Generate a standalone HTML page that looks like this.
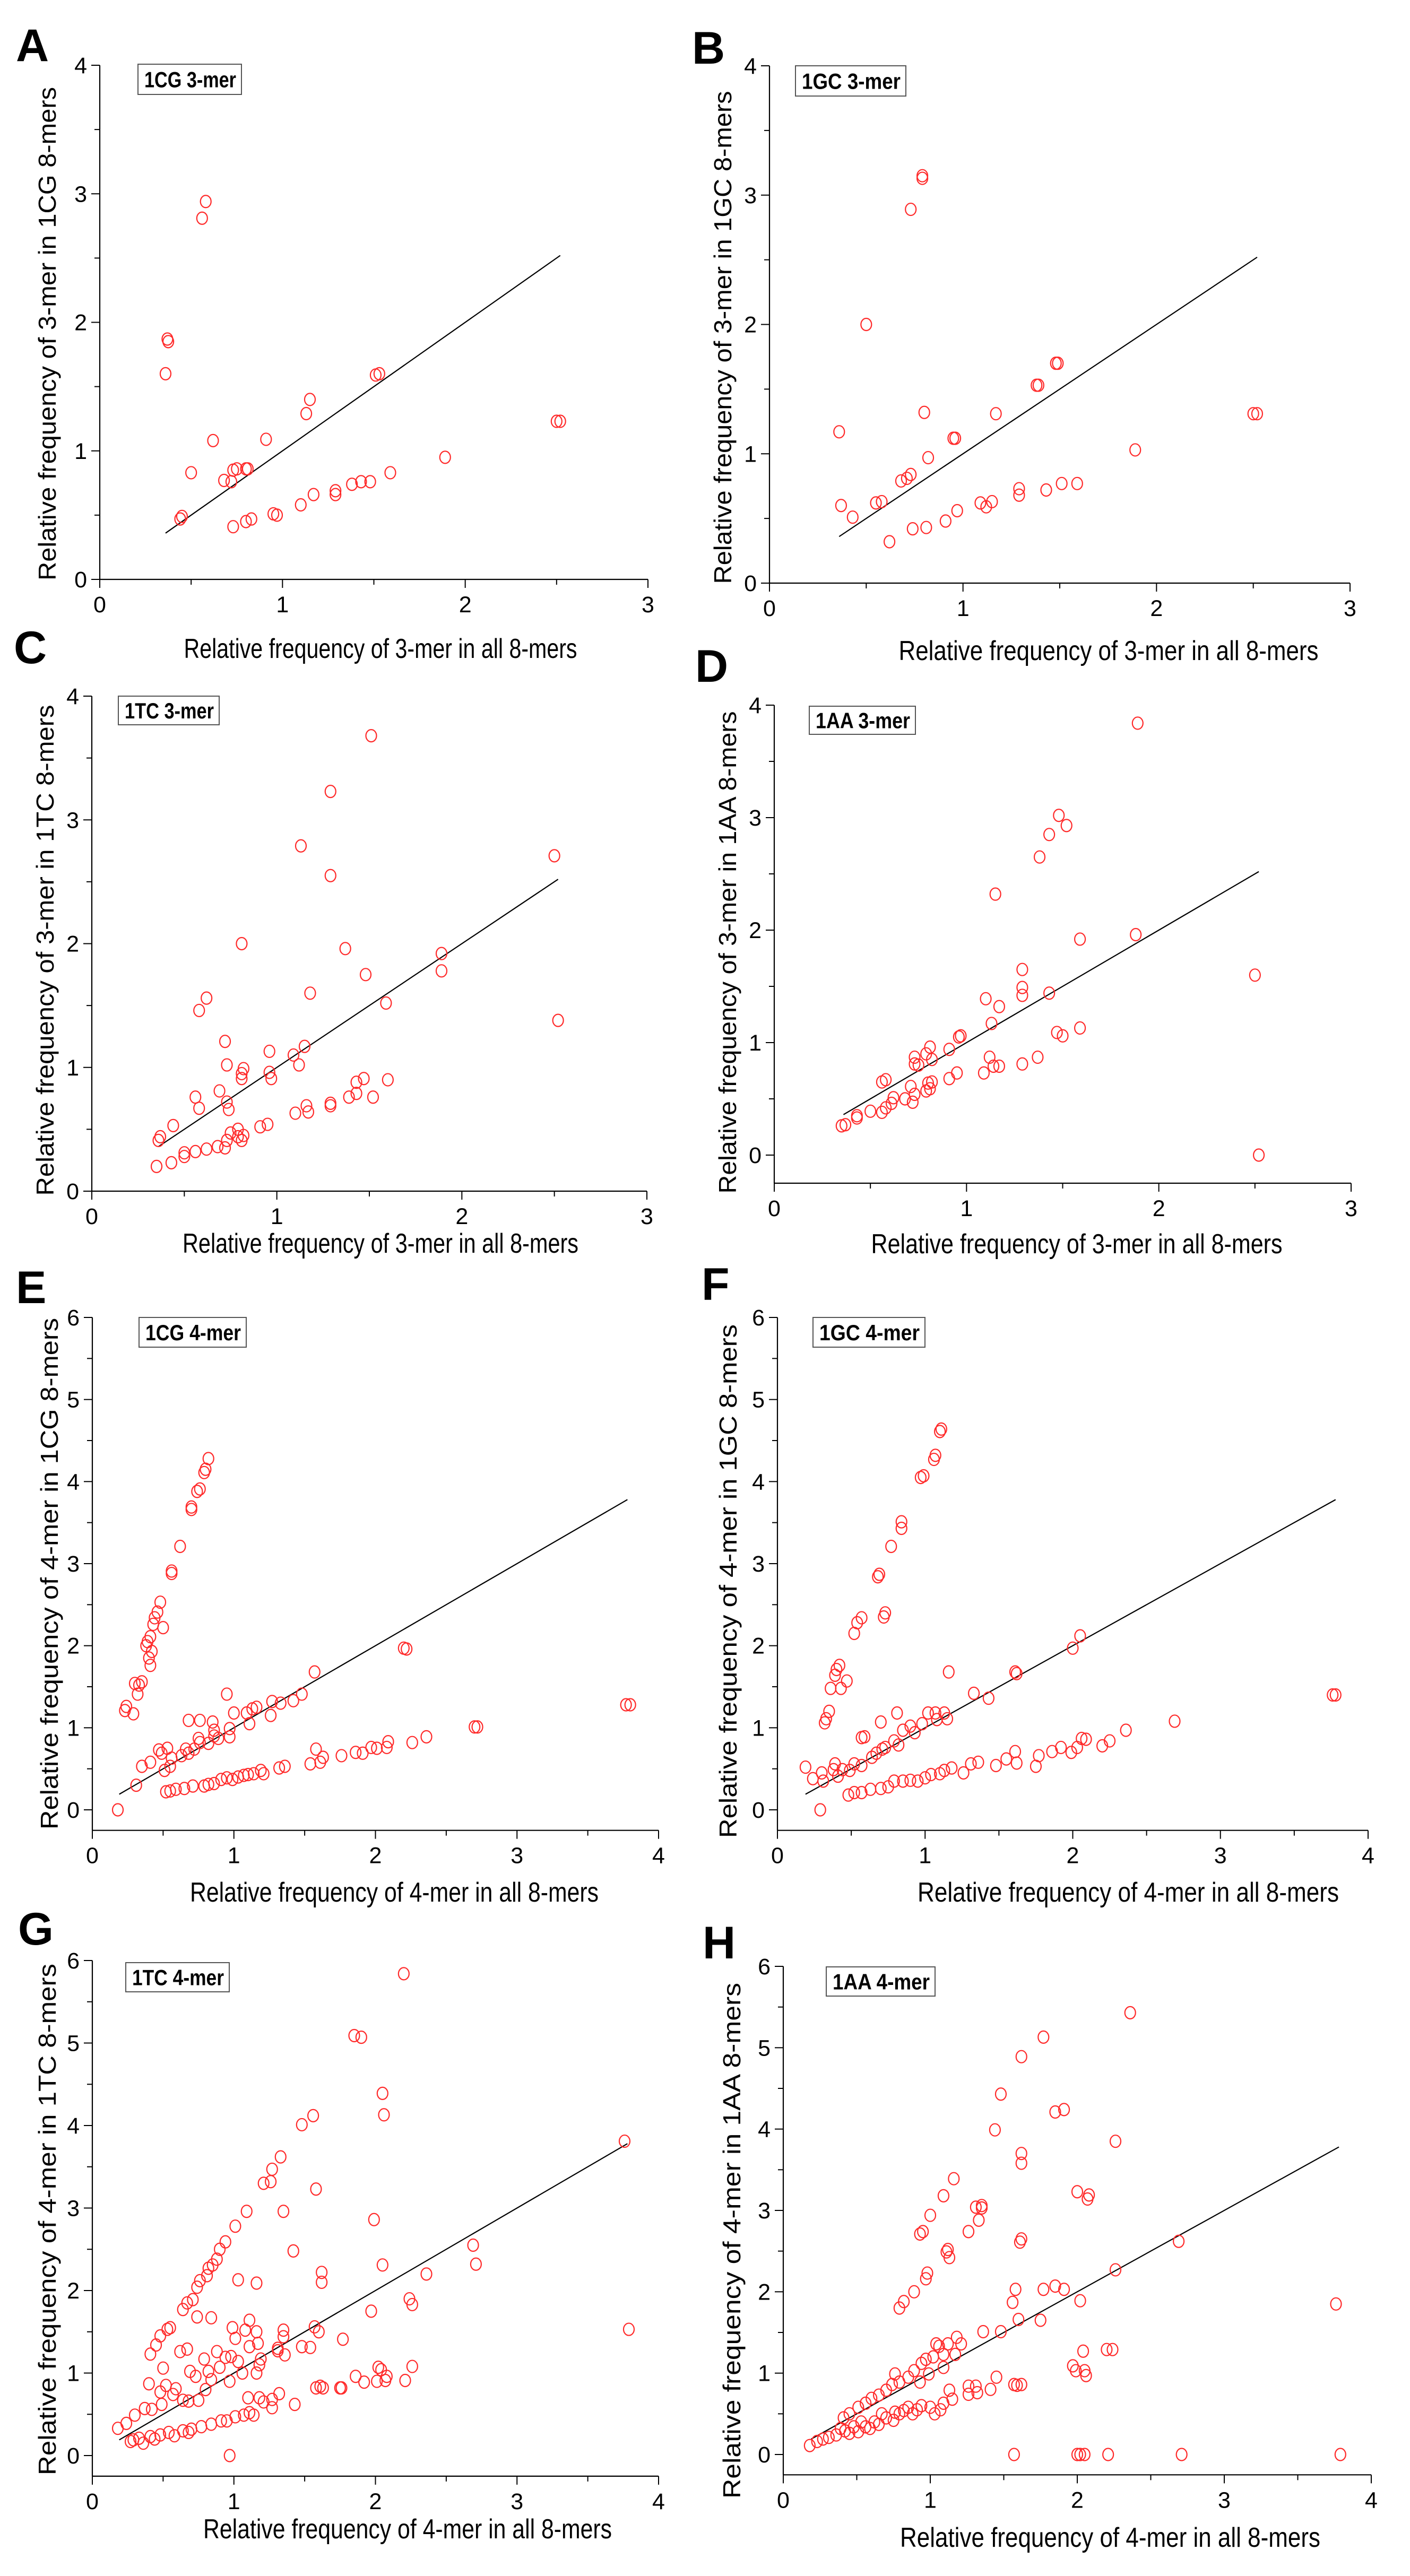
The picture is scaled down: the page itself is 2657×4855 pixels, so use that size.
<!DOCTYPE html>
<html><head><meta charset="utf-8"><title>k-mer relative frequency scatter plots</title>
<style>
html,body{margin:0;padding:0;background:#fff;}
svg{display:block;}
text{font-family:"Liberation Sans",sans-serif;}
</style></head>
<body>
<svg id="fig" xmlns="http://www.w3.org/2000/svg" width="2657" height="4855" viewBox="0 0 2657 4855"></svg>
<script>
// ---- data (x = relative frequency in all 8-mers, y = relative frequency in subset) ----
const A_PTS = [[0.58,2.94],[0.56,2.81],[0.37,1.87],[0.375,1.85],[0.36,1.60],[0.62,1.08],[0.91,1.09],[0.50,0.83],[0.68,0.77],[0.72,0.76],[0.73,0.85],[0.75,0.86],[0.80,0.86],[0.81,0.86],[0.44,0.47],[0.45,0.49],[0.73,0.41],[0.80,0.45],[0.83,0.47],[0.95,0.51],[0.97,0.50],[1.10,0.58],[1.17,0.66],[1.13,1.29],[1.15,1.40],[1.29,0.69],[1.29,0.66],[1.38,0.74],[1.43,0.76],[1.48,0.76],[1.59,0.83],[1.51,1.59],[1.53,1.60],[1.89,0.95],[2.50,1.23],[2.52,1.23]];
const B_PTS = [[0.79,3.15],[0.79,3.13],[0.73,2.89],[0.50,2.00],[1.48,1.70],[1.49,1.70],[1.38,1.53],[1.39,1.53],[0.80,1.32],[1.17,1.31],[0.36,1.17],[0.95,1.12],[0.96,1.12],[0.82,0.97],[1.89,1.03],[2.50,1.31],[2.52,1.31],[0.68,0.79],[0.71,0.81],[0.73,0.84],[0.37,0.60],[0.43,0.51],[0.55,0.62],[0.58,0.63],[0.62,0.32],[0.74,0.42],[0.81,0.43],[0.91,0.48],[0.97,0.56],[1.09,0.62],[1.12,0.59],[1.15,0.63],[1.29,0.68],[1.29,0.73],[1.43,0.72],[1.51,0.77],[1.59,0.77]];
const C_PTS = [[1.51,3.68],[1.29,3.23],[1.13,2.79],[1.29,2.55],[2.50,2.71],[0.81,2.00],[1.37,1.96],[1.89,1.92],[1.89,1.78],[1.48,1.75],[1.18,1.60],[1.59,1.52],[2.52,1.38],[0.62,1.56],[0.58,1.46],[0.72,1.21],[0.96,1.13],[1.15,1.17],[1.09,1.10],[1.12,1.02],[0.73,1.02],[0.82,0.99],[0.81,0.95],[0.81,0.91],[0.96,0.96],[0.97,0.91],[0.69,0.81],[0.56,0.76],[0.58,0.67],[0.73,0.72],[0.74,0.66],[0.44,0.53],[0.36,0.41],[0.37,0.44],[0.35,0.20],[0.43,0.23],[0.50,0.28],[0.50,0.31],[0.56,0.32],[0.62,0.34],[0.68,0.36],[0.72,0.35],[0.73,0.41],[0.75,0.47],[0.79,0.50],[0.79,0.44],[0.81,0.41],[0.82,0.45],[0.91,0.52],[0.95,0.54],[1.10,0.63],[1.16,0.69],[1.17,0.64],[1.29,0.71],[1.29,0.69],[1.39,0.76],[1.43,0.79],[1.43,0.88],[1.47,0.91],[1.52,0.76],[1.60,0.90]];
const D_PTS = [[1.89,3.84],[1.48,3.02],[1.52,2.93],[1.43,2.85],[1.38,2.65],[1.15,2.32],[1.59,1.92],[1.88,1.96],[2.50,1.60],[2.52,0.0],[1.29,1.65],[1.29,1.49],[1.29,1.42],[1.43,1.44],[1.10,1.39],[1.17,1.32],[1.13,1.17],[1.47,1.09],[1.50,1.06],[1.59,1.13],[0.96,1.05],[0.97,1.06],[0.91,0.94],[0.81,0.96],[0.79,0.90],[0.82,0.85],[0.73,0.87],[0.73,0.81],[0.75,0.80],[1.12,0.87],[1.37,0.87],[1.29,0.81],[1.14,0.79],[1.17,0.79],[1.09,0.73],[0.95,0.73],[0.91,0.68],[0.82,0.65],[0.80,0.64],[0.56,0.65],[0.58,0.67],[0.71,0.61],[0.79,0.57],[0.81,0.59],[0.73,0.54],[0.72,0.47],[0.68,0.50],[0.62,0.51],[0.61,0.46],[0.58,0.42],[0.56,0.38],[0.50,0.39],[0.43,0.33],[0.43,0.35],[0.37,0.27],[0.35,0.26]];
const E_PTS = [[0.82,4.28],[0.80,4.15],[0.79,4.11],[0.76,3.91],[0.74,3.88],[0.70,3.69],[0.70,3.66],[0.62,3.21],[0.56,2.91],[0.56,2.88],[0.48,2.53],[0.46,2.41],[0.44,2.34],[0.43,2.26],[0.50,2.22],[0.41,2.11],[0.39,2.05],[0.38,2.00],[0.42,1.93],[0.40,1.85],[0.41,1.76],[0.35,1.56],[0.33,1.52],[0.30,1.54],[0.32,1.41],[0.24,1.26],[0.23,1.21],[0.29,1.17],[0.18,0.0],[0.31,0.30],[0.35,0.53],[0.41,0.58],[0.47,0.73],[0.49,0.69],[0.53,0.75],[0.51,0.48],[0.55,0.53],[0.56,0.63],[0.63,0.66],[0.66,0.74],[0.68,0.69],[0.72,0.74],[0.68,1.09],[0.76,1.09],[0.75,0.87],[0.76,0.82],[0.82,0.81],[0.85,1.07],[0.86,0.97],[0.86,0.90],[0.89,0.87],[0.97,0.99],[0.97,0.89],[0.95,1.41],[1.00,1.18],[1.11,1.05],[1.09,1.18],[1.13,1.23],[1.16,1.25],[1.26,1.15],[1.27,1.32],[1.33,1.30],[1.42,1.33],[1.48,1.41],[1.57,1.68],[2.20,1.97],[2.22,1.96],[2.70,1.01],[2.72,1.01],[3.77,1.28],[3.80,1.28],[0.52,0.22],[0.55,0.23],[0.59,0.25],[0.65,0.26],[0.71,0.29],[0.79,0.29],[0.82,0.31],[0.86,0.32],[0.91,0.37],[0.95,0.39],[0.99,0.37],[1.03,0.40],[1.07,0.42],[1.10,0.43],[1.14,0.44],[1.19,0.48],[1.21,0.44],[1.32,0.51],[1.36,0.53],[1.54,0.56],[1.58,0.74],[1.61,0.58],[1.63,0.64],[1.76,0.66],[1.86,0.70],[1.91,0.69],[1.97,0.76],[2.01,0.75],[2.08,0.76],[2.09,0.83],[2.26,0.82],[2.36,0.89]];
const F_PTS = [[1.11,4.64],[1.10,4.61],[1.07,4.32],[1.06,4.27],[0.99,4.07],[0.97,4.05],[0.84,3.51],[0.84,3.43],[0.77,3.21],[0.69,2.87],[0.68,2.84],[0.73,2.40],[0.72,2.35],[0.57,2.34],[0.54,2.28],[0.52,2.15],[0.42,1.76],[0.40,1.71],[0.39,1.64],[0.47,1.57],[0.36,1.48],[0.43,1.48],[0.35,1.20],[0.33,1.11],[0.32,1.06],[0.19,0.52],[0.24,0.38],[0.30,0.45],[0.31,0.35],[0.29,0.0],[0.39,0.56],[0.38,0.49],[0.41,0.41],[0.44,0.49],[0.49,0.48],[0.52,0.56],[0.57,0.54],[0.57,0.88],[0.59,0.89],[0.64,0.64],[0.67,0.69],[0.71,0.74],[0.73,0.76],[0.70,1.07],[0.81,1.18],[0.79,0.84],[0.82,0.79],[0.85,0.97],[0.90,1.02],[0.93,0.94],[0.98,1.05],[1.02,1.18],[1.07,1.18],[1.08,1.10],[1.13,1.18],[1.15,1.11],[1.16,1.68],[1.33,1.42],[1.43,1.36],[1.61,1.68],[1.62,1.66],[2.00,1.97],[2.05,2.12],[2.69,1.08],[3.76,1.40],[3.78,1.40],[0.48,0.18],[0.52,0.21],[0.57,0.21],[0.63,0.25],[0.70,0.26],[0.75,0.28],[0.79,0.35],[0.85,0.35],[0.90,0.36],[0.95,0.35],[1.00,0.39],[1.04,0.43],[1.10,0.44],[1.13,0.48],[1.18,0.51],[1.26,0.45],[1.31,0.56],[1.36,0.58],[1.48,0.54],[1.55,0.62],[1.61,0.71],[1.62,0.57],[1.75,0.53],[1.77,0.66],[1.86,0.71],[1.92,0.76],[1.99,0.70],[2.03,0.76],[2.06,0.87],[2.09,0.86],[2.20,0.78],[2.25,0.84],[2.36,0.97]];
const G_PTS = [[2.20,5.84],[1.85,5.09],[1.90,5.07],[2.05,4.39],[2.06,4.13],[1.56,4.12],[1.48,4.01],[1.33,3.62],[1.27,3.47],[1.26,3.32],[1.21,3.30],[1.58,3.23],[1.35,2.96],[1.09,2.96],[1.01,2.78],[1.99,2.86],[0.94,2.59],[0.90,2.50],[0.88,2.38],[0.85,2.31],[0.82,2.27],[0.81,2.18],[2.69,2.55],[2.71,2.32],[1.42,2.48],[2.05,2.31],[1.62,2.22],[1.62,2.10],[1.03,2.13],[1.16,2.09],[2.36,2.20],[0.76,2.12],[0.74,2.04],[0.71,1.89],[0.67,1.85],[0.64,1.77],[2.24,1.90],[2.26,1.83],[1.97,1.75],[0.74,1.68],[0.84,1.67],[1.11,1.64],[0.55,1.55],[0.53,1.53],[0.99,1.55],[1.08,1.52],[1.16,1.50],[1.35,1.52],[1.57,1.56],[1.60,1.50],[3.79,1.53],[3.76,3.81],[0.48,1.45],[0.45,1.34],[0.41,1.23],[1.01,1.42],[1.77,1.41],[1.48,1.32],[1.54,1.31],[1.35,1.44],[1.17,1.36],[1.11,1.32],[0.62,1.26],[0.67,1.29],[1.31,1.30],[1.31,1.27],[1.36,1.22],[0.88,1.26],[0.79,1.17],[0.94,1.19],[0.98,1.20],[1.03,1.14],[1.19,1.17],[1.18,1.10],[0.50,1.06],[0.90,1.07],[1.06,1.00],[1.16,1.00],[2.02,1.07],[2.26,1.08],[2.04,1.04],[0.40,0.87],[0.69,1.02],[0.73,0.96],[0.82,1.02],[0.84,0.92],[0.97,0.90],[0.80,0.80],[0.52,0.85],[0.59,0.81],[0.48,0.77],[0.57,0.74],[1.76,0.82],[1.86,0.96],[1.92,0.89],[2.01,0.90],[2.08,0.96],[2.21,0.91],[2.07,0.91],[1.58,0.82],[1.61,0.84],[1.63,0.82],[1.75,0.82],[0.42,0.56],[0.37,0.57],[0.30,0.49],[0.24,0.39],[0.18,0.33],[0.49,0.62],[0.64,0.67],[0.68,0.66],[0.75,0.67],[1.10,0.70],[1.18,0.70],[1.32,0.75],[1.27,0.68],[1.43,0.62],[1.21,0.65],[1.27,0.58],[0.29,0.19],[0.33,0.21],[0.41,0.23],[0.48,0.25],[0.54,0.28],[0.64,0.30],[0.70,0.32],[0.77,0.35],[0.84,0.38],[0.91,0.42],[0.95,0.42],[1.01,0.47],[1.07,0.49],[1.11,0.52],[1.14,0.49],[0.97,0.0],[0.27,0.17],[0.36,0.15],[0.44,0.20],[0.58,0.24],[0.68,0.28]];
const H_PTS = [[2.36,5.43],[1.77,5.13],[1.62,4.89],[1.48,4.43],[1.85,4.21],[1.91,4.24],[1.44,3.99],[2.26,3.85],[1.62,3.70],[1.62,3.58],[1.16,3.39],[1.09,3.18],[2.00,3.23],[2.08,3.19],[2.07,3.14],[1.31,3.04],[1.35,3.06],[1.35,3.03],[1.33,2.88],[1.00,2.94],[1.26,2.74],[0.93,2.71],[0.95,2.74],[1.62,2.65],[1.61,2.61],[2.69,2.62],[1.11,2.49],[1.12,2.52],[1.13,2.42],[2.26,2.27],[0.98,2.23],[0.97,2.16],[0.89,2.00],[1.58,2.03],[1.77,2.03],[1.85,2.07],[1.91,2.03],[2.02,1.89],[3.76,1.85],[1.56,1.87],[0.82,1.88],[0.79,1.80],[1.60,1.66],[1.75,1.65],[1.48,1.51],[1.36,1.51],[2.04,1.27],[2.20,1.29],[2.24,1.29],[1.97,1.09],[1.99,1.03],[2.05,1.03],[2.06,0.97],[1.45,0.95],[1.57,0.86],[1.59,0.85],[1.62,0.86],[1.41,0.80],[1.31,0.84],[1.26,0.84],[1.26,0.74],[1.32,0.76],[1.13,0.79],[1.15,0.68],[1.09,0.63],[1.57,0.0],[2.00,0.0],[2.02,0.0],[2.05,0.0],[2.21,0.0],[2.71,0.0],[3.79,0.0],[1.18,1.44],[1.21,1.36],[1.17,1.23],[1.12,1.36],[1.04,1.36],[1.06,1.33],[1.09,1.23],[1.09,1.07],[1.02,1.20],[0.97,1.17],[0.94,1.12],[0.99,0.99],[0.93,0.89],[0.89,1.03],[0.85,0.95],[0.79,0.89],[0.76,0.99],[0.74,0.86],[0.70,0.79],[0.65,0.73],[0.60,0.69],[0.56,0.63],[0.51,0.58],[0.45,0.50],[0.41,0.45],[1.03,0.50],[1.00,0.58],[0.94,0.60],[0.88,0.50],[0.85,0.58],[0.79,0.50],[0.75,0.42],[0.70,0.45],[0.67,0.50],[0.62,0.40],[0.56,0.34],[0.53,0.40],[0.48,0.34],[0.42,0.29],[0.39,0.32],[0.36,0.24],[0.31,0.21],[0.27,0.19],[0.23,0.16],[0.18,0.11],[0.45,0.26],[0.51,0.28],[0.59,0.32],[0.65,0.37],[0.76,0.52],[0.82,0.54],[0.91,0.55],[1.07,0.55]];
// regression (identity-like fit) endpoints
const FIT3_X = [0.36, 2.52];
const FIT3_Y = [0.36, 2.52];
const FIT4_X = [0.19, 3.78];
const FIT4_Y = [0.19, 3.78];
const XTICKS3 = ["0","1","2","3"];
const XTICKS4 = ["0","1","2","3","4"];
const YTICKS3 = ["0","1","2","3","4"];
const YTICKS4 = ["0","1","2","3","4","5","6"];

const NS = "http://www.w3.org/2000/svg";
const svg = document.getElementById('fig');
function mk(tag, attrs, parent){
  const e = document.createElementNS(NS, tag);
  for (const k in attrs) e.setAttribute(k, attrs[k]);
  (parent||svg).appendChild(e);
  return e;
}

const panels = [
 {id:'a',letter:'A',lx:30,ly:115,pts:A_PTS,fx:FIT3_X,fy:FIT3_Y,xt:XTICKS3,yt:YTICKS3,xmax:3,ymax:4,ymin:0,
  px0:188,px1:1221,pyTop:123,py0:1092,leg:[260,121,195,57],legText:'1CG 3-mer',
  ylab:'Relative frequency of 3-mer in 1CG 8-mers',ylx:89,yly:629,yll:930,xlab:'Relative frequency of 3-mer in all 8-mers',xlx:717,xly:1240,xll:741},
 {id:'b',letter:'B',lx:1304,ly:120,pts:B_PTS,fx:FIT3_X,fy:FIT3_Y,xt:XTICKS3,yt:YTICKS3,xmax:3,ymax:4,ymin:0,
  px0:1450,px1:2544,pyTop:124,py0:1099,leg:[1499,124,208,57],legText:'1GC 3-mer',
  ylab:'Relative frequency of 3-mer in 1GC 8-mers',ylx:1362,yly:636,yll:929,xlab:'Relative frequency of 3-mer in all 8-mers',xlx:2089,xly:1244,xll:791},
 {id:'c',letter:'C',lx:26,ly:1250,pts:C_PTS,fx:FIT3_X,fy:FIT3_Y,xt:XTICKS3,yt:YTICKS3,xmax:3,ymax:4,ymin:0,
  px0:173,px1:1219,pyTop:1312,py0:2245,leg:[223,1312,190,54],legText:'1TC 3-mer',
  ylab:'Relative frequency of 3-mer in 1TC 8-mers',ylx:85,yly:1791,yll:925,xlab:'Relative frequency of 3-mer in all 8-mers',xlx:717,xly:2361,xll:746},
 {id:'d',letter:'D',lx:1310,ly:1285,pts:D_PTS,fx:FIT3_X,fy:FIT3_Y,xt:XTICKS3,yt:YTICKS3,xmax:3,ymax:4,ymin:-0.25,
  px0:1459,px1:2546,pyTop:1329,py0:2177,leg:[1525,1331,200,53],legText:'1AA 3-mer',
  ylab:'Relative frequency of 3-mer in 1AA 8-mers',ylx:1371,yly:1795,yll:909,xlab:'Relative frequency of 3-mer in all 8-mers',xlx:2029,xly:2362,xll:775},
 {id:'e',letter:'E',lx:30,ly:2456,pts:E_PTS,fx:FIT4_X,fy:FIT4_Y,xt:XTICKS4,yt:YTICKS4,xmax:4,ymax:6,ymin:-0.25,
  px0:174,px1:1241,pyTop:2483,py0:3411,leg:[262,2483,202,56],legText:'1CG 4-mer',
  ylab:'Relative frequency of 4-mer in 1CG 8-mers',ylx:93,yly:2966,yll:964,xlab:'Relative frequency of 4-mer in all 8-mers',xlx:743,xly:3584,xll:770},
 {id:'f',letter:'F',lx:1322,ly:2450,pts:F_PTS,fx:FIT4_X,fy:FIT4_Y,xt:XTICKS4,yt:YTICKS4,xmax:4,ymax:6,ymin:-0.25,
  px0:1465,px1:2578,pyTop:2483,py0:3411,leg:[1532,2483,211,56],legText:'1GC 4-mer',
  ylab:'Relative frequency of 4-mer in 1GC 8-mers',ylx:1372,yly:2980,yll:968,xlab:'Relative frequency of 4-mer in all 8-mers',xlx:2126,xly:3584,xll:794},
 {id:'g',letter:'G',lx:34,ly:3665,pts:G_PTS,fx:FIT4_X,fy:FIT4_Y,xt:XTICKS4,yt:YTICKS4,xmax:4,ymax:6,ymin:-0.25,
  px0:174,px1:1241,pyTop:3695,py0:4628,leg:[237,3699,195,55],legText:'1TC 4-mer',
  ylab:'Relative frequency of 4-mer in 1TC 8-mers',ylx:89,yly:4183,yll:964,xlab:'Relative frequency of 4-mer in all 8-mers',xlx:768,xly:4784,xll:770},
 {id:'h',letter:'H',lx:1324,ly:3691,pts:H_PTS,fx:FIT4_X,fy:FIT4_Y,xt:XTICKS4,yt:YTICKS4,xmax:4,ymax:6,ymin:-0.25,
  px0:1476,px1:2584,pyTop:3706,py0:4626,leg:[1557,3707,205,55],legText:'1AA 4-mer',
  ylab:'Relative frequency of 4-mer in 1AA 8-mers',ylx:1379,yly:4223,yll:972,xlab:'Relative frequency of 4-mer in all 8-mers',xlx:2092,xly:4800,xll:792}
];

panels.forEach(p => {
  const g = mk('g', {});
  
  
  const sx = v => p.px0 + (p.px1 - p.px0) * v / p.xmax;
  const sy = v => p.py0 - (p.py0 - p.pyTop) * v / p.ymax;
  const axisY = sy(p.ymin);

  const letter = mk('text', {x:p.lx, y:p.ly, 'font-size':86, 'font-weight':'bold', fill:'#000'}, g);
  letter.textContent = p.letter;
  
  

  const yAxis = mk('line', {x1:p.px0, y1:sy(p.ymax), x2:p.px0, y2:axisY, stroke:'#000', 'stroke-width':2.2}, g);
  
  
  const xAxis = mk('line', {x1:p.px0, y1:axisY, x2:p.px1, y2:axisY, stroke:'#000', 'stroke-width':2.2}, g);
  
  

  for (let i = 0; i <= p.xmax * 2; i++) {
    const v = i / 2, X = sx(v), major = i % 2 === 0;
    mk('line', {x1:X, y1:axisY, x2:X, y2:axisY + (major ? 16 : 10), stroke:'#000', 'stroke-width':2}, g);
    if (major) {
      const t = mk('text', {x:X, y:axisY + 62, 'font-size':43, 'text-anchor':'middle', fill:'#000'}, g);
      t.textContent = p.xt[i / 2];
      
      
    }
  }
  for (let i = 0; i <= p.ymax * 2; i++) {
    const v = i / 2, Y = sy(v), major = i % 2 === 0;
    mk('line', {x1:p.px0, y1:Y, x2:p.px0 - (major ? 16 : 10), y2:Y, stroke:'#000', 'stroke-width':2}, g);
    if (major) {
      const t = mk('text', {x:p.px0 - 24, y:Y + 15, 'font-size':43, 'text-anchor':'end', fill:'#000'}, g);
      t.textContent = p.yt[i / 2];
      
      
    }
  }

  const fit = mk('line', {x1:sx(p.fx[0]), y1:sy(p.fy[0]), x2:sx(p.fx[1]), y2:sy(p.fy[1]), stroke:'#000', 'stroke-width':2.2}, g);
  
  

  p.pts.forEach(d => {
    const c = mk('ellipse', {cx:sx(d[0]), cy:sy(d[1]), rx:10, ry:11.5, fill:'none', stroke:'#ff2a2a', 'stroke-width':2.2}, g);
    
    
  });

  const lb = mk('rect', {x:p.leg[0], y:p.leg[1], width:p.leg[2], height:p.leg[3], fill:'#fff', stroke:'#555', 'stroke-width':2}, g);
  
  
  const lt = mk('text', {x:p.leg[0] + 12, y:p.leg[1] + p.leg[3] / 2 + 15, 'font-size':42, 'font-weight':'bold', fill:'#000',
    textLength:p.leg[2] - 22, lengthAdjust:'spacingAndGlyphs'}, g);
  lt.textContent = p.legText;
  
  

  const yl = mk('text', {x:0, y:0, 'font-size':46, 'text-anchor':'middle', fill:'#000',
    transform:'translate(' + (p.ylx + 16) + ',' + p.yly + ') rotate(-90)', textLength:p.yll, lengthAdjust:'spacingAndGlyphs'}, g);
  yl.textContent = p.ylab;
  
  
  const xl = mk('text', {x:p.xlx, y:p.xly, 'font-size':52, 'text-anchor':'middle', fill:'#000',
    textLength:p.xll, lengthAdjust:'spacingAndGlyphs'}, g);
  xl.textContent = p.xlab;
  
  
});
</script>
</body></html>
